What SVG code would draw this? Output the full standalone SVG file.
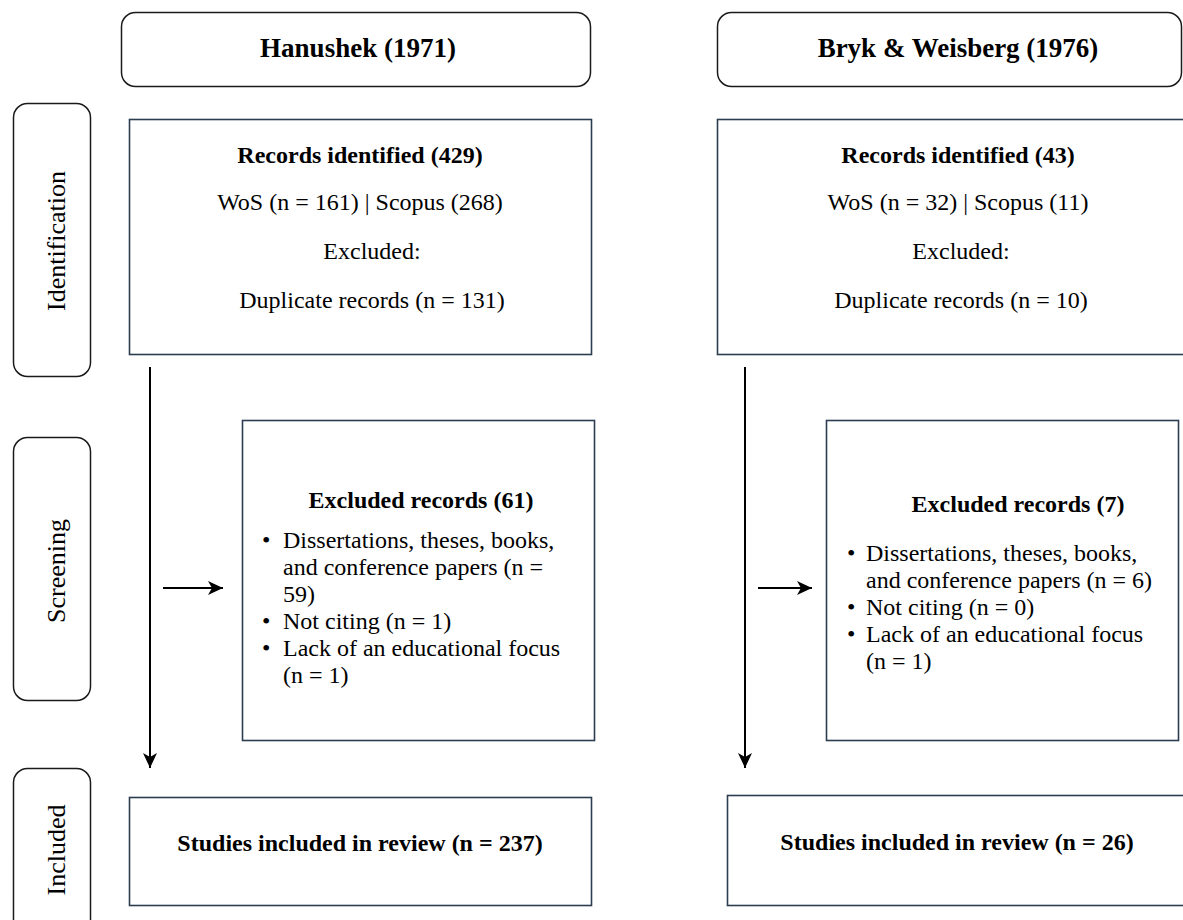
<svg xmlns="http://www.w3.org/2000/svg" width="1183" height="920" viewBox="0 0 1183 920">
<style>
  .rbox{fill:#fff;stroke:#1a1a1a;stroke-width:1.5}
  .box{fill:#fff;stroke:#2b3d4f;stroke-width:1.6}
  .t{font-family:"Liberation Serif","Times New Roman",serif;font-size:24px;fill:#000}
  .b{font-weight:bold}
  .h{font-family:"Liberation Serif","Times New Roman",serif;font-size:27px;font-weight:bold;fill:#000}
  .ph{font-family:"Liberation Serif","Times New Roman",serif;font-size:26px;fill:#000}
  .c{text-anchor:middle}
  .arr{stroke:#000;stroke-width:2;fill:none}
</style>
<defs>
  <marker id="ah" markerUnits="userSpaceOnUse" markerWidth="16" markerHeight="14" refX="15" refY="7" orient="auto">
    <path d="M0,0 L15,7 L0,14 L4,7 z" fill="#000"/>
  </marker>
</defs>
<rect width="1183" height="920" fill="#fff"/>

<g id="phase-identification">
  <rect class="rbox" x="13.5" y="103.5" width="77" height="273" rx="14"/>
  <text class="ph" text-anchor="middle" transform="translate(65,241) rotate(-90)">Identification</text>
</g>
<g id="phase-screening">
  <rect class="rbox" x="13.5" y="437.5" width="77" height="263" rx="14"/>
  <text class="ph" text-anchor="middle" transform="translate(65,571) rotate(-90)">Screening</text>
</g>
<g id="phase-included">
  <rect class="rbox" x="13.5" y="768.5" width="77" height="170" rx="14"/>
  <text class="ph" text-anchor="middle" transform="translate(65,850) rotate(-90)">Included</text>
</g>

<g id="head-hanushek">
  <rect class="rbox" x="121.5" y="12.5" width="469" height="74" rx="14"/>
  <text class="h c" x="358" y="57">Hanushek (1971)</text>
</g>
<g id="head-bryk">
  <rect class="rbox" x="717.5" y="12.5" width="464" height="74" rx="14"/>
  <text class="h c" x="958" y="57">Bryk &amp; Weisberg (1976)</text>
</g>

<g id="ident-hanushek">
  <rect class="box" x="129.5" y="119.5" width="462" height="235"/>
  <text class="t b c" x="360" y="163">Records identified (429)</text>
  <text class="t c" x="360" y="210">WoS (n = 161) | Scopus (268)</text>
  <text class="t c" x="372" y="259">Excluded:</text>
  <text class="t c" x="372" y="308">Duplicate records (n = 131)</text>
</g>
<g id="ident-bryk">
  <rect class="box" x="717.5" y="119.5" width="480" height="235"/>
  <text class="t b c" x="958" y="163">Records identified (43)</text>
  <text class="t c" x="958" y="210">WoS (n = 32) | Scopus (11)</text>
  <text class="t c" x="961" y="259">Excluded:</text>
  <text class="t c" x="961" y="308">Duplicate records (n = 10)</text>
</g>

<g id="excl-hanushek">
  <rect class="box" x="242.5" y="420.5" width="352" height="320"/>
  <text class="t b c" x="421" y="508">Excluded records (61)</text>
  <g class="t">
    <text x="262" y="548">•</text><text x="283" y="548">Dissertations, theses, books,</text>
    <text x="283" y="575">and conference papers (n =</text>
    <text x="283" y="602">59)</text>
    <text x="262" y="629">•</text><text x="283" y="629">Not citing (n = 1)</text>
    <text x="262" y="656">•</text><text x="283" y="656">Lack of an educational focus</text>
    <text x="283" y="683">(n = 1)</text>
  </g>
</g>
<g id="excl-bryk">
  <rect class="box" x="826.5" y="420.5" width="352" height="320"/>
  <text class="t b c" x="1018" y="512">Excluded records (7)</text>
  <g class="t">
    <text x="847" y="561">•</text><text x="866" y="561">Dissertations, theses, books,</text>
    <text x="866" y="588">and conference papers (n = 6)</text>
    <text x="847" y="615">•</text><text x="866" y="615">Not citing (n = 0)</text>
    <text x="847" y="642">•</text><text x="866" y="642">Lack of an educational focus</text>
    <text x="866" y="669">(n = 1)</text>
  </g>
</g>

<g id="incl-hanushek">
  <rect class="box" x="129.5" y="797.5" width="462" height="108"/>
  <text class="t b c" x="360" y="851">Studies included in review (n = 237)</text>
</g>
<g id="incl-bryk">
  <rect class="box" x="727.5" y="795.5" width="470" height="110"/>
  <text class="t b c" x="957" y="850">Studies included in review (n = 26)</text>
</g>

<g id="connectors">
  <line class="arr" x1="150" y1="367" x2="150" y2="768" marker-end="url(#ah)"/>
  <line class="arr" x1="745" y1="367" x2="745" y2="768" marker-end="url(#ah)"/>
  <line class="arr" x1="163" y1="588" x2="223" y2="588" marker-end="url(#ah)"/>
  <line class="arr" x1="758" y1="588" x2="812" y2="588" marker-end="url(#ah)"/>
</g>
</svg>
